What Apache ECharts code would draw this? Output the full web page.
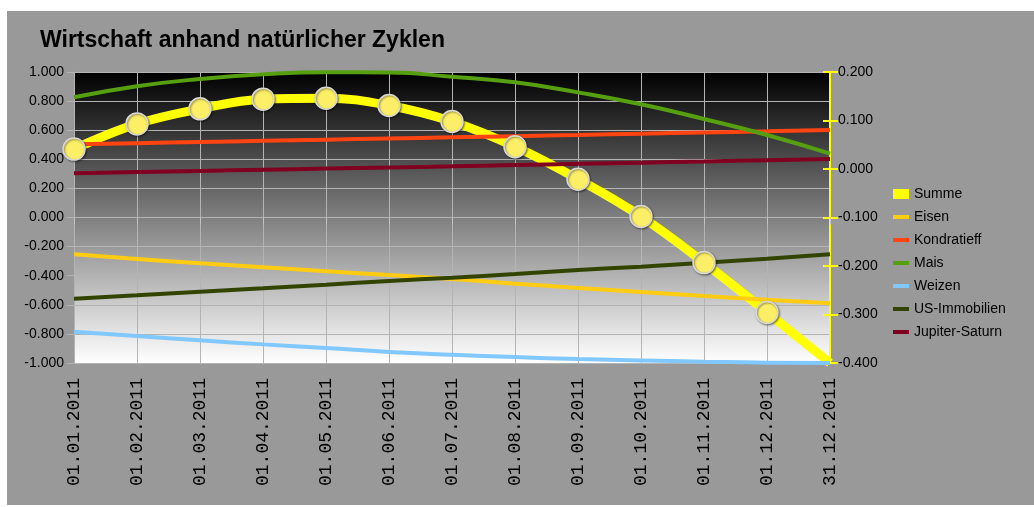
<!DOCTYPE html>
<html>
<head>
<meta charset="utf-8">
<script src="https://cdn.jsdelivr.net/npm/echarts@6/dist/echarts.min.js"></script>
<style>
html,body{margin:0;padding:0;background:#fff;width:1034px;height:507px;overflow:hidden;}
#chart{position:absolute;left:7px;top:11px;width:1027px;height:494px;}
</style>
</head>
<body>
<div id="chart"></div>
<script>
const categories = ['01.01.2011','01.02.2011','01.03.2011','01.04.2011','01.05.2011','01.06.2011','01.07.2011','01.08.2011','01.09.2011','01.10.2011','01.11.2011','01.12.2011','31.12.2011'];
const summe = [0.041, 0.093, 0.124, 0.144, 0.146, 0.131, 0.098, 0.046, -0.021, -0.098, -0.193, -0.296, -0.400];
const eisen = [-0.253, -0.285, -0.315, -0.342, -0.370, -0.395, -0.423, -0.455, -0.484, -0.512, -0.540, -0.566, -0.590];
const kondratieff = [0.503, 0.511, 0.519, 0.527, 0.535, 0.543, 0.551, 0.559, 0.567, 0.576, 0.584, 0.592, 0.601];
const mais = [0.826, 0.902, 0.952, 0.984, 0.998, 0.996, 0.968, 0.929, 0.860, 0.778, 0.677, 0.567, 0.439];
const weizen = [-0.785, -0.814, -0.844, -0.872, -0.897, -0.924, -0.943, -0.959, -0.973, -0.982, -0.991, -0.998, -1.000];
const usImmobilien = [-0.558, -0.535, -0.510, -0.487, -0.462, -0.436, -0.414, -0.388, -0.361, -0.338, -0.311, -0.283, -0.253];
const jupiterSaturn = [0.304, 0.312, 0.320, 0.328, 0.336, 0.344, 0.352, 0.361, 0.369, 0.377, 0.385, 0.394, 0.402];
const leftTicks = {min: -1, max: 1, interval: 0.2};
const rightTicks = {min: -0.4, max: 0.2, interval: 0.1};

const chart = echarts.init(document.getElementById('chart'), null, {renderer: 'canvas'});
const font = 'Liberation Sans, Arial, sans-serif';
const lineIcon = 'path://M0,0 M0,14 M0,5 L16,5 L16,9 L0,9 Z';
const summeIcon = 'path://M0,0 M0,14 M0,2 L16,2 L16,12 L0,12 Z';

function lineSeries(name, data, color) {
  return {
    name: name, type: 'line', yAxisIndex: 0, data: data, smooth: true,
    symbol: 'none', lineStyle: {color: color, width: 4}, itemStyle: {color: color}
  };
}

const summeData = summe.map((v, i) => i === summe.length - 1 ? {value: v, symbol: 'none'} : v);

const option = {
  backgroundColor: '#999999',
  animation: false,
  title: {
    text: 'Wirtschaft anhand natürlicher Zyklen',
    left: 28, top: 13,
    textStyle: {fontFamily: font, fontSize: 23, fontWeight: 'bold', color: '#000'}
  },
  legend: {
    orient: 'vertical', left: 886, top: 176, padding: 0,
    itemWidth: 16, itemHeight: 14, itemGap: 9,
    textStyle: {fontFamily: font, fontSize: 14, color: '#000'},
    data: [
      {name: 'Summe', icon: summeIcon, itemStyle: {color: '#ffff00', borderWidth: 0}},
      {name: 'Eisen', icon: lineIcon, itemStyle: {borderWidth: 0}},
      {name: 'Kondratieff', icon: lineIcon, itemStyle: {borderWidth: 0}},
      {name: 'Mais', icon: lineIcon, itemStyle: {borderWidth: 0}},
      {name: 'Weizen', icon: lineIcon, itemStyle: {borderWidth: 0}},
      {name: 'US-Immobilien', icon: lineIcon, itemStyle: {borderWidth: 0}},
      {name: 'Jupiter-Saturn', icon: lineIcon, itemStyle: {borderWidth: 0}}
    ]
  },
  grid: {
    left: 67, right: 204, top: 61, bottom: 142, show: true, borderWidth: 0,
    backgroundColor: new echarts.graphic.LinearGradient(0, 0, 0, 1, [
      {offset: 0, color: '#000000'}, {offset: 1, color: '#ffffff'}
    ])
  },
  xAxis: {
    type: 'category', data: categories, boundaryGap: false,
    axisLine: {lineStyle: {color: '#b4b4b4', width: 1}},
    axisTick: {show: true, length: 7, lineStyle: {color: '#c4c4c4'}},
    splitLine: {show: true, lineStyle: {color: '#b4b4b4', width: 1}},
    axisLabel: {rotate: 90, margin: 15, interval: 0, color: '#000',
      fontFamily: 'Liberation Mono, DejaVu Sans Mono, monospace', fontSize: 18}
  },
  yAxis: [
    {
      type: 'value', position: 'left', min: leftTicks.min, max: leftTicks.max, interval: leftTicks.interval,
      axisLine: {show: true, lineStyle: {color: '#b4b4b4'}},
      axisTick: {show: true, length: 7, lineStyle: {color: '#b4b4b4'}},
      splitLine: {show: true, lineStyle: {color: '#b4b4b4', width: 1}},
      axisLabel: {margin: 10, color: '#000', fontFamily: font, fontSize: 14,
        formatter: v => v.toFixed(3)}
    },
    {
      type: 'value', position: 'right', min: rightTicks.min, max: rightTicks.max, interval: rightTicks.interval,
      axisLine: {show: true, lineStyle: {color: '#ffff00', width: 2}},
      axisTick: {show: true, length: 8, lineStyle: {color: '#ffff00', width: 2}},
      splitLine: {show: false},
      axisLabel: {margin: 8, color: '#000', fontFamily: font, fontSize: 14,
        formatter: v => v.toFixed(3)}
    },
    {
      type: 'value', position: 'right', min: rightTicks.min, max: rightTicks.max, interval: rightTicks.interval,
      axisLine: {show: false},
      axisTick: {show: true, inside: true, length: 7, lineStyle: {color: '#ffff00', width: 2}},
      splitLine: {show: false},
      axisLabel: {show: false}
    }
  ],
  series: [
    {
      name: 'Summe', type: 'line', yAxisIndex: 1, data: summeData, smooth: 0.4,
      symbol: 'circle', symbolSize: 22,
      lineStyle: {color: '#ffff00', width: 9},
      itemStyle: {color: '#fcee66', borderColor: '#d8d8d8', borderWidth: 1.5,
        shadowColor: 'rgba(0,0,0,0.45)', shadowBlur: 2, shadowOffsetX: 1, shadowOffsetY: 1}
    },
    lineSeries('Eisen', eisen, '#ffcc11'),
    lineSeries('Kondratieff', kondratieff, '#ff4411'),
    lineSeries('Mais', mais, '#559f11'),
    lineSeries('Weizen', weizen, '#80c8ff'),
    lineSeries('US-Immobilien', usImmobilien, '#334400'),
    lineSeries('Jupiter-Saturn', jupiterSaturn, '#800022')
  ]
};
chart.setOption(option);
</script>
</body>
</html>
